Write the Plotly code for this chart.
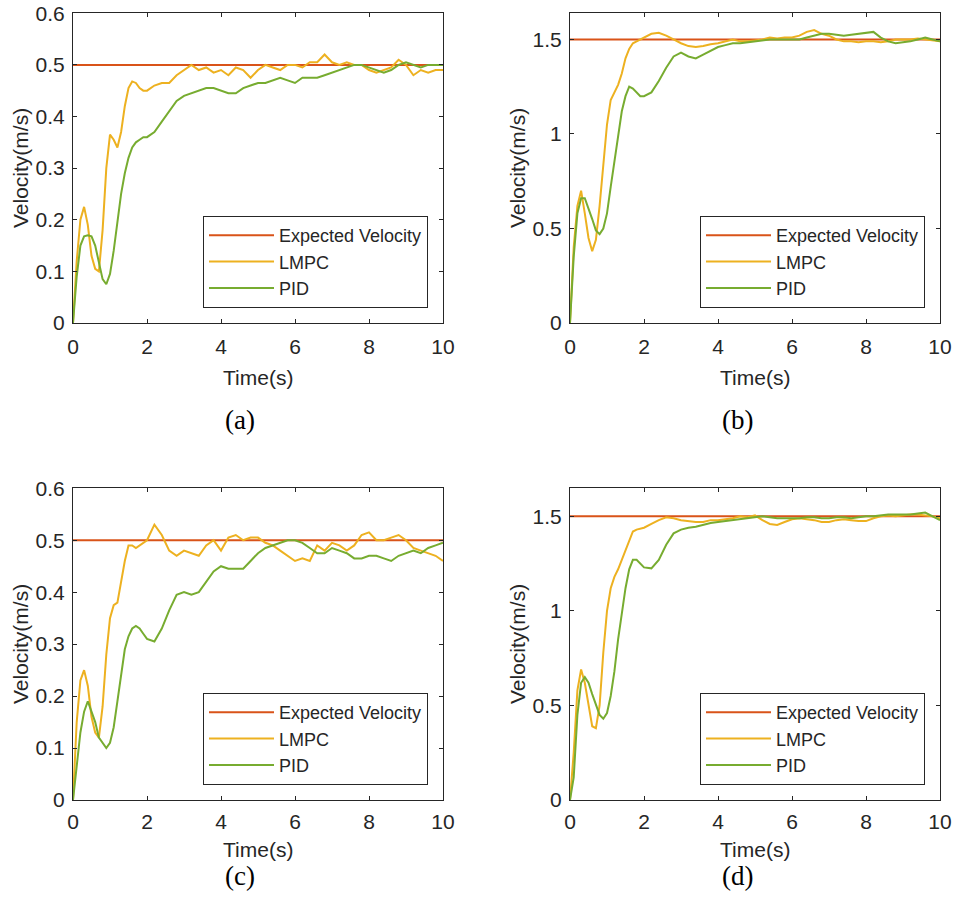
import plotly.graph_objects as go

# ---------------- data ----------------
T = [0, 0.1, 0.2, 0.3, 0.4, 0.5, 0.6, 0.7, 0.8, 0.9,
     1.0, 1.1, 1.2, 1.3, 1.4, 1.5, 1.6, 1.7, 1.8, 1.9,
     2.0,
     2.2, 2.4, 2.6, 2.8, 3.0, 3.2, 3.4, 3.6, 3.8, 4.0,
     4.2, 4.4, 4.6, 4.8, 5.0, 5.2, 5.4, 5.6, 5.8, 6.0,
     6.2, 6.4, 6.6, 6.8, 7.0, 7.2, 7.4, 7.6, 7.8, 8.0,
     8.2, 8.4, 8.6, 8.8, 9.0, 9.2, 9.4, 9.6, 9.8, 10.0]

a_lmpc = [0, 0.12, 0.20, 0.225, 0.19, 0.13, 0.105, 0.10, 0.18, 0.30,
          0.365, 0.355, 0.34, 0.37, 0.42, 0.455, 0.468, 0.465, 0.455, 0.45,
          0.45,
          0.46, 0.465, 0.465, 0.48, 0.49, 0.50, 0.49, 0.495, 0.485, 0.49,
          0.48, 0.495, 0.49, 0.475, 0.49, 0.50, 0.495, 0.49, 0.50, 0.50,
          0.495, 0.505, 0.505, 0.52, 0.505, 0.50, 0.505, 0.50, 0.50, 0.49,
          0.485, 0.49, 0.495, 0.51, 0.50, 0.48, 0.49, 0.485, 0.49, 0.49]
a_pid = [0, 0.09, 0.15, 0.168, 0.17, 0.168, 0.15, 0.115, 0.085, 0.075,
         0.095, 0.14, 0.20, 0.25, 0.29, 0.32, 0.34, 0.35, 0.355, 0.36,
         0.36,
         0.37, 0.39, 0.41, 0.43, 0.44, 0.445, 0.45, 0.455, 0.455, 0.45,
         0.445, 0.445, 0.455, 0.46, 0.465, 0.465, 0.47, 0.475, 0.47, 0.465,
         0.475, 0.475, 0.475, 0.48, 0.485, 0.49, 0.495, 0.50, 0.50, 0.495,
         0.49, 0.485, 0.49, 0.50, 0.505, 0.50, 0.495, 0.50, 0.50, 0.50]

b_lmpc = [0, 0.40, 0.62, 0.70, 0.58, 0.45, 0.38, 0.44, 0.62, 0.85,
          1.05, 1.18, 1.22, 1.26, 1.32, 1.40, 1.45, 1.48, 1.49, 1.50,
          1.51,
          1.53, 1.535, 1.52, 1.50, 1.48, 1.465, 1.46, 1.465, 1.475, 1.48,
          1.49, 1.50, 1.49, 1.49, 1.495, 1.50, 1.51, 1.505, 1.51, 1.51,
          1.52, 1.54, 1.55, 1.53, 1.52, 1.50, 1.49, 1.49, 1.485, 1.49,
          1.49, 1.485, 1.49, 1.50, 1.50, 1.50, 1.505, 1.50, 1.495, 1.49]
b_pid = [0, 0.35, 0.58, 0.66, 0.66, 0.61, 0.55, 0.49, 0.47, 0.50,
         0.58, 0.72, 0.86, 1.00, 1.12, 1.20, 1.25, 1.24, 1.22, 1.20,
         1.20,
         1.22, 1.28, 1.35, 1.41, 1.43, 1.41, 1.40, 1.42, 1.44, 1.46,
         1.47, 1.48, 1.48, 1.485, 1.49, 1.495, 1.50, 1.50, 1.50, 1.50,
         1.50, 1.51, 1.52, 1.53, 1.53, 1.525, 1.52, 1.525, 1.53, 1.535,
         1.54, 1.51, 1.49, 1.48, 1.485, 1.49, 1.50, 1.51, 1.50, 1.49]

c_lmpc = [0, 0.15, 0.23, 0.25, 0.22, 0.16, 0.13, 0.12, 0.18, 0.28,
          0.35, 0.375, 0.38, 0.42, 0.46, 0.49, 0.49, 0.485, 0.49, 0.495,
          0.50,
          0.53, 0.51, 0.48, 0.47, 0.48, 0.475, 0.47, 0.49, 0.50, 0.48,
          0.505, 0.51, 0.50, 0.505, 0.505, 0.495, 0.49, 0.48, 0.47, 0.46,
          0.465, 0.46, 0.49, 0.48, 0.495, 0.49, 0.48, 0.49, 0.51, 0.515,
          0.50, 0.50, 0.505, 0.51, 0.50, 0.485, 0.48, 0.475, 0.47, 0.46]
c_pid = [0, 0.07, 0.13, 0.17, 0.19, 0.17, 0.15, 0.12, 0.11, 0.10,
         0.11, 0.14, 0.19, 0.24, 0.29, 0.315, 0.33, 0.335, 0.33, 0.32,
         0.31,
         0.305, 0.33, 0.365, 0.395, 0.40, 0.395, 0.40, 0.42, 0.44, 0.45,
         0.445, 0.445, 0.445, 0.46, 0.475, 0.485, 0.49, 0.495, 0.50, 0.50,
         0.495, 0.485, 0.475, 0.475, 0.485, 0.48, 0.475, 0.465, 0.465, 0.47,
         0.47, 0.465, 0.46, 0.47, 0.475, 0.48, 0.475, 0.485, 0.49, 0.495]

d_lmpc = [0, 0.25, 0.58, 0.69, 0.62, 0.50, 0.39, 0.38, 0.50, 0.78,
          1.00, 1.12, 1.18, 1.22, 1.27, 1.33, 1.38, 1.42, 1.43, 1.435,
          1.44,
          1.46, 1.48, 1.495, 1.49, 1.48, 1.475, 1.47, 1.47, 1.48, 1.48,
          1.485, 1.49, 1.50, 1.495, 1.505, 1.48, 1.46, 1.455, 1.47, 1.485,
          1.49, 1.485, 1.48, 1.47, 1.47, 1.48, 1.485, 1.48, 1.475, 1.475,
          1.49, 1.50, 1.505, 1.50, 1.505, 1.51, 1.51, 1.505, 1.50, 1.49]
d_pid = [0, 0.12, 0.45, 0.62, 0.65, 0.62, 0.56, 0.50, 0.45, 0.43,
         0.46, 0.55, 0.68, 0.85, 1.00, 1.12, 1.22, 1.27, 1.27, 1.25,
         1.23,
         1.225, 1.27, 1.35, 1.41, 1.43, 1.44, 1.445, 1.455, 1.465, 1.47,
         1.475, 1.48, 1.485, 1.49, 1.495, 1.50, 1.495, 1.49, 1.49, 1.49,
         1.49, 1.495, 1.495, 1.49, 1.49, 1.495, 1.495, 1.49, 1.495, 1.50,
         1.50, 1.505, 1.51, 1.51, 1.51, 1.51, 1.515, 1.52, 1.50, 1.48]

expected_small = 0.5
expected_large = 1.5
series_names = ["Expected Velocity", "LMPC", "PID"]
panel_labels = ["(a)", "(b)", "(c)", "(d)"]
x_ticks = [0, 2, 4, 6, 8, 10]
y_ticks_small = [0, 0.1, 0.2, 0.3, 0.4, 0.5, 0.6]
y_ticks_large = [0, 0.5, 1, 1.5]
y_ticktext_large = ["0", "0.5", "1", "1.5"]

# ---------------- styling ----------------
W, H = 960, 914
C_EXP = "#D95319"
C_LMPC = "#EDB120"
C_PID = "#77AC30"
AX = "#262626"
SANS = "Liberation Sans, Arial, sans-serif"
SERIF = "Liberation Serif, Times New Roman, serif"


def px(xs):
    return xs / W


def py(ys):
    return 1 - ys / H


# plot-area rectangles in screen pixels (left, right, top, bottom)
rects = [(73, 443, 13, 323), (570, 940, 13, 323),
         (73, 443, 488, 800), (570, 940, 488, 800)]
# screen y of the "Time(s)" title and of the panel caption, per panel
title_y = [377, 377, 849, 849]
caption_y = [420, 420, 876, 876]
panels = [(a_lmpc, a_pid, expected_small, [0, 0.6005], y_ticks_small, None),
          (b_lmpc, b_pid, expected_large, [0, 1.64], y_ticks_large, y_ticktext_large),
          (c_lmpc, c_pid, expected_small, [0, 0.6005], y_ticks_small, None),
          (d_lmpc, d_pid, expected_large, [0, 1.65], y_ticks_large, y_ticktext_large)]

fig = go.Figure()
layout = dict(width=W, height=H, margin=dict(l=0, r=0, t=0, b=0, autoexpand=False),
              paper_bgcolor="white", plot_bgcolor="white", template="none",
              showlegend=True,
              font=dict(family=SANS, color=AX), annotations=[])

for i, ((lm, pid, ref, yr, yt, ytt), (l, r, t, b)) in enumerate(zip(panels, rects)):
    n = i + 1
    xa = "x" if n == 1 else f"x{n}"
    ya = "y" if n == 1 else f"y{n}"
    lg = "legend" if n == 1 else f"legend{n}"
    fig.add_trace(go.Scatter(x=[T[0], T[-1]], y=[ref, ref], mode="lines",
                             line=dict(color=C_EXP, width=2), name=series_names[0],
                             xaxis=xa, yaxis=ya, legend=lg))
    fig.add_trace(go.Scatter(x=T, y=lm, mode="lines",
                             line=dict(color=C_LMPC, width=2), name=series_names[1],
                             xaxis=xa, yaxis=ya, legend=lg))
    fig.add_trace(go.Scatter(x=T, y=pid, mode="lines",
                             line=dict(color=C_PID, width=2), name=series_names[2],
                             xaxis=xa, yaxis=ya, legend=lg))
    common = dict(showline=True, linecolor=AX, linewidth=1, mirror="allticks",
                  ticks="inside", ticklen=4, tickcolor=AX, showgrid=False,
                  zeroline=False, automargin=False, ticklabeloverflow="allow",
                  tickfont=dict(size=21, color=AX, family=SANS))
    layout["xaxis" if n == 1 else f"xaxis{n}"] = dict(
        domain=[px(l), px(r)], range=[0, 10], tickvals=x_ticks, anchor=ya,
        ticklabelstandoff=5 if n <= 2 else 3, **common)
    yax = dict(domain=[py(b), py(t)], range=yr, tickvals=yt, anchor=xa,
               ticklabelstandoff=3, **common)
    if ytt:
        yax["ticktext"] = ytt
    layout["yaxis" if n == 1 else f"yaxis{n}"] = yax
    layout[lg] = dict(x=px(r - 15), y=py(b - 15), xanchor="right", yanchor="bottom",
                      bgcolor="white", bordercolor=AX, borderwidth=1,
                      font=dict(size=18, family=SANS, color=AX),
                      itemwidth=65, tracegroupgap=0)
    cx = (l + r) / 2
    layout["annotations"].append(dict(text="Time(s)", x=px(cx), y=py(title_y[i]),
                                      xref="paper", yref="paper", showarrow=False,
                                      xanchor="center", yanchor="middle",
                                      font=dict(size=21, family=SANS, color=AX)))
    layout["annotations"].append(dict(text="Velocity(m/s)", x=px(l - 53), y=py((t + b) / 2),
                                      xref="paper", yref="paper", showarrow=False, textangle=-90,
                                      xanchor="center", yanchor="middle",
                                      font=dict(size=21, family=SANS, color=AX)))
    layout["annotations"].append(dict(text=panel_labels[i], x=px(cx - 18), y=py(caption_y[i]),
                                      xref="paper", yref="paper", showarrow=False,
                                      xanchor="center", yanchor="middle",
                                      font=dict(size=27, family=SERIF, color="black")))

fig.update_layout(**layout)
# remove the browser's default 8px page margin so the figure fills the window exactly
fig.write_html("out.html", config={"displayModeBar": False},
               post_script="document.body.style.margin='0';document.body.style.overflow='hidden';")
